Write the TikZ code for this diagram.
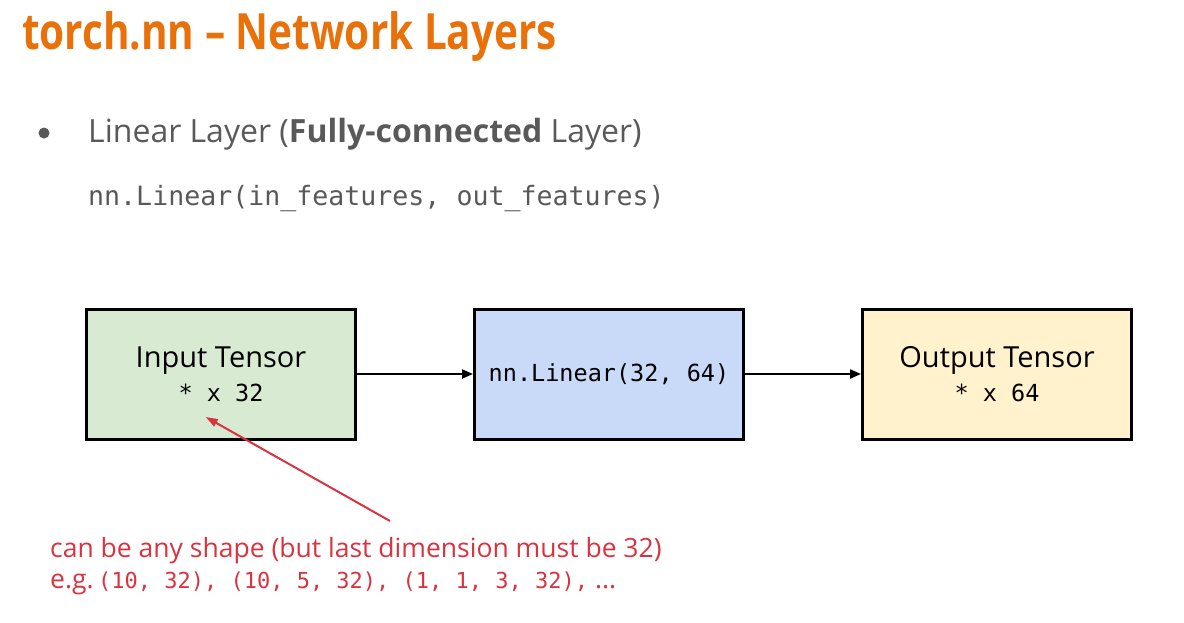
\documentclass[tikz,border=0pt]{standalone}
\usepackage{fontspec}
\setmainfont{Open Sans}
\setmonofont{DejaVu Sans Mono}
\newfontfamily\titlefont[FakeStretch=0.81]{Open Sans}
\usetikzlibrary{arrows.meta,positioning}
\definecolor{slideorange}{HTML}{E8710A}
\definecolor{slidegray}{HTML}{595959}
\definecolor{notered}{HTML}{D9333F}
\definecolor{ingreen}{HTML}{D9EAD3}
\definecolor{layerblue}{HTML}{C9DAF8}
\definecolor{outyellow}{HTML}{FFF2CC}

\begin{document}
\begin{tikzpicture}[x=1pt,y=-1pt,>={Triangle[length=11pt,width=9pt]},
		box/.style={draw=black,line width=3pt,minimum width=269pt,minimum height=130pt,
			inner sep=0pt,align=center,font=\fontsize{29}{34}\selectfont},
		flow/.style={->,line width=2.2pt},
		note/.style={-{Triangle[length=12pt,width=8pt]},notered,line width=2pt,shorten >=2pt}]
	\useasboundingbox (0,0) rectangle (1184,622);

	\node[anchor=base west,inner sep=0pt,text=slideorange,
		font=\titlefont\bfseries\fontsize{50}{60}\selectfont] (title) at (22,49) {torch.nn \textendash{} Network Layers};

	\fill[slidegray] (44,133) circle (5.5pt);
	\node[anchor=base west,inner sep=0pt,text=slidegray,
		font=\fontsize{32}{38}\selectfont] (item) at (88,142) {Linear Layer (\textbf{Fully-connected} Layer)};
	\node[anchor=base west,inner sep=0pt,text=slidegray,
		font=\ttfamily\fontsize{26.6}{32}\selectfont] (sig) at (88,205) {nn.Linear(in\_features, out\_features)};

	\node[box,fill=ingreen] (in) at (221,374) {Input Tensor\\{\ttfamily\fontsize{23.5}{29}\selectfont * x 32}};
	\node[box,fill=layerblue,font=\ttfamily\fontsize{23.5}{29}\selectfont] (lin) [right=116pt of in] {nn.Linear(32, 64)};
	\node[box,fill=outyellow] (out) [right=116pt of lin] {Output Tensor\\{\ttfamily\fontsize{23.5}{29}\selectfont * x 64}};

	\path (in) edge[flow] (lin);
	\path (lin) edge[flow] (out);

	\node[anchor=base west,inner sep=0pt,text=notered,align=left,
		font=\fontsize{26.5}{31}\selectfont] (hint) at (50,588)
		{can be any shape (but last dimension must be 32)\\
		 e.g.\,{\ttfamily\fontsize{22}{31}\selectfont (10, 32), (10, 5, 32), (1, 1, 3, 32),} ...};
	\coordinate (tail) at (390,521);
	\coordinate (aim) at (204,416);
	\draw[note] (tail) -- (aim);
\end{tikzpicture}
\end{document}
